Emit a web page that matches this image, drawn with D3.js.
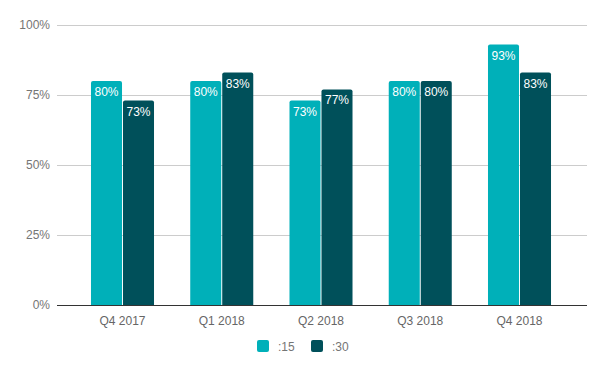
<!DOCTYPE html>
<html>
<head>
<meta charset="utf-8">
<script src="https://cdn.jsdelivr.net/npm/d3@7"></script>
<style>
  body { margin: 0; background: #fff; }
  svg { font-family: "Liberation Sans", Arial, sans-serif; }
</style>
</head>
<body>
<div id="chart"></div>
<script>
// chart data
const quarters = ["Q4 2017", "Q1 2018", "Q2 2018", "Q3 2018", "Q4 2018"];
const seriesNames = [":15", ":30"];
const values15 = [80, 80, 73, 80, 93];
const values30 = [73, 83, 77, 80, 83];
const yTicks = [0, 25, 50, 75, 100];

const colors = ["#00b0b9", "#00505a"];

const svgWidth = 605;
const svgHeight = 371;

const margin = { top: 25, right: 18, bottom: 66, left: 57 };
const chartWidth = svgWidth - margin.left - margin.right;
const chartHeight = svgHeight - margin.top - margin.bottom;

const svg = d3.select("#chart")
  .append("svg")
  .attr("width", svgWidth)
  .attr("height", svgHeight);

const chartGroup = svg.append("g")
  .attr("transform", `translate(${margin.left}, ${margin.top})`);

const data = quarters.map((q, i) => ({ q: q, vals: [values15[i], values30[i]] }));

// scales
const x0 = d3.scaleBand()
  .domain(quarters)
  .range([-1, chartWidth - 1])
  .paddingInner(0.365)
  .paddingOuter(0.3525);

const x1 = d3.scaleBand()
  .domain(seriesNames)
  .range([0, x0.bandwidth()])
  .paddingInner(0.03);

const y = d3.scaleLinear()
  .domain([0, 100])
  .range([chartHeight, 0]);

// gridlines + y labels
const yAxis = d3.axisLeft(y)
  .tickValues(yTicks)
  .tickSize(-chartWidth)
  .tickFormat(d => d + "%");

const yg = chartGroup.append("g").call(yAxis);
yg.attr("font-family", null);
yg.select(".domain").remove();
yg.selectAll(".tick line").attr("stroke", "#cccccc");
yg.selectAll(".tick text")
  .attr("x", -7)
  .attr("fill", "#757575")
  .style("font-size", "12px");

// bars
const groups = chartGroup.selectAll(".grp")
  .data(data)
  .enter()
  .append("g")
  .attr("transform", d => `translate(${x0(d.q)}, 0)`);

const r = 2;
function topRounded(x, yTop, w, h) {
  return `M${x},${yTop + h}V${yTop + r}Q${x},${yTop} ${x + r},${yTop}` +
    `H${x + w - r}Q${x + w},${yTop} ${x + w},${yTop + r}V${yTop + h}Z`;
}

groups.selectAll("path")
  .data(d => d.vals.map((v, i) => ({ name: seriesNames[i], v: v, i: i })))
  .enter()
  .append("path")
  .attr("d", d => topRounded(x1(d.name), y(d.v), x1.bandwidth(), chartHeight - y(d.v)))
  .attr("fill", d => colors[d.i]);

groups.selectAll("text")
  .data(d => d.vals.map((v, i) => ({ name: seriesNames[i], v: v })))
  .enter()
  .append("text")
  .attr("x", d => x1(d.name) + x1.bandwidth() / 2)
  .attr("y", d => y(d.v) + 15)
  .attr("text-anchor", "middle")
  .attr("fill", "#ffffff")
  .style("font-size", "12px")
  .text(d => d.v + "%");

// baseline and x labels
const xAxis = d3.axisBottom(x0).tickSize(0).tickPadding(11);
const xg = chartGroup.append("g")
  .attr("transform", `translate(0, ${chartHeight})`)
  .call(xAxis);
xg.attr("font-family", null);
xg.select(".domain").remove();
xg.selectAll(".tick text")
  .attr("fill", "#666666")
  .style("font-size", "12px");

chartGroup.append("line")
  .attr("x1", 0)
  .attr("x2", chartWidth)
  .attr("y1", chartHeight + 0.5)
  .attr("y2", chartHeight + 0.5)
  .attr("stroke", "#333333");

// legend
const legendX = [257, 311];
const legend = svg.selectAll(".legend")
  .data(seriesNames)
  .enter()
  .append("g")
  .attr("transform", (d, i) => `translate(${legendX[i]}, 340)`);

legend.append("rect")
  .attr("width", 12)
  .attr("height", 12)
  .attr("rx", 2)
  .attr("fill", (d, i) => colors[i]);

legend.append("text")
  .attr("x", 21)
  .attr("y", 10.5)
  .attr("fill", "#757575")
  .style("font-size", "12px")
  .text(d => d);
</script>
</body>
</html>
